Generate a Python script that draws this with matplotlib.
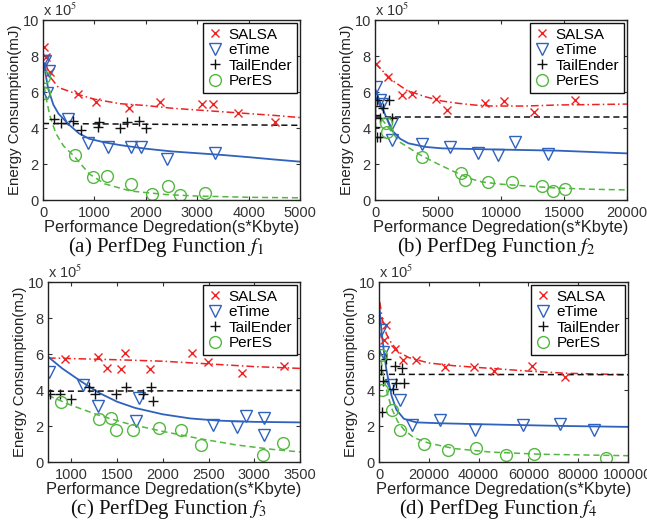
import matplotlib
matplotlib.use("Agg")
import matplotlib.pyplot as plt

plt.rcParams['font.family'] = ['Liberation Sans', 'DejaVu Sans']
plt.rcParams['mathtext.fontset'] = 'stix'

# ---------------- data (values in units of 1e5 mJ) ----------------
# (a) f1
a_salsa_x = [13, 65, 130, 682, 1040, 1676, 2275, 3097, 3311, 3785, 4513]
a_salsa_y = [8.52, 7.96, 7.1, 5.87, 5.46, 5.09, 5.43, 5.33, 5.31, 4.81, 4.33]
a_etime_x = [0, 30, 120, 80, 487, 877, 1266, 1720, 1915, 2403, 3344]
a_etime_y = [7.75, 7.7, 7.15, 5.95, 4.48, 3.19, 2.96, 2.96, 2.96, 2.3, 2.63]
a_tail_x = [208, 359, 585, 748, 1091, 1072, 1495, 1625, 1871, 2002]
a_tail_y = [4.5, 4.26, 4.39, 3.89, 4.35, 4.04, 4.02, 4.35, 4.39, 3.98]
a_peres_x = [13, 13, 617, 974, 1247, 1708, 2130, 2435, 2675, 3149]
a_peres_y = [6.85, 5.93, 2.5, 1.26, 1.35, 0.87, 0.33, 0.78, 0.28, 0.37]
a_salsa_fit_x = [50, 150, 300, 700, 1000, 1500, 2000, 2500, 3000, 3500, 4000, 4500, 5000]
a_salsa_fit_y = [7.6, 6.8, 6.25, 5.85, 5.6, 5.35, 5.25, 5.1, 5.0, 4.9, 4.8, 4.7, 4.58]
a_etime_fit_x = [20, 50, 100, 200, 300, 500, 700, 900, 1200, 1500, 2000, 2500, 3000, 3500, 4000, 4500, 5000]
a_etime_fit_y = [7.6, 7.0, 6.2, 5.3, 4.8, 4.2, 3.7, 3.4, 3.2, 3.05, 2.85, 2.7, 2.6, 2.5, 2.38, 2.25, 2.13]
a_tail_fit_x = [0, 5000]
a_tail_fit_y = [4.25, 4.15]
a_peres_fit_x = [0, 50, 130, 250, 400, 600, 900, 1200, 1700, 2400, 3000, 4000, 5000]
a_peres_fit_y = [6.85, 5.8, 4.72, 3.7, 3.0, 2.45, 1.45, 0.9, 0.5, 0.3, 0.22, 0.15, 0.12]

# (b) f2
b_salsa_x = [80, 1060, 2170, 2960, 4850, 5700, 8740, 10200, 12580, 15890]
b_salsa_y = [7.54, 6.81, 5.83, 5.89, 5.61, 5.0, 5.37, 5.52, 4.91, 5.56]
b_etime_x = [80, 400, 530, 1320, 1320, 3710, 5960, 8210, 9750, 11130, 13720]
b_etime_y = [6.26, 5.56, 5.33, 4.26, 3.33, 3.11, 2.93, 2.59, 2.5, 3.24, 2.56]
b_tail_x = [130, 0, 660, 1110, 0, 400, 1320, 0, 130, 400]
b_tail_y = [5.56, 5.2, 5.09, 5.56, 4.72, 4.54, 4.54, 4.07, 3.52, 3.52]
b_peres_x = [870, 930, 3710, 6830, 7150, 8950, 10860, 13250, 14120, 15100]
b_peres_y = [4.3, 3.8, 2.41, 1.52, 1.11, 0.98, 1.02, 0.78, 0.5, 0.63]
b_salsa_fit_x = [0, 1320, 2500, 3970, 5300, 6620, 8000, 9270, 11920, 14570, 17000, 20000]
b_salsa_fit_y = [7.6, 6.67, 6.1, 5.74, 5.5, 5.37, 5.27, 5.22, 5.22, 5.28, 5.3, 5.33]
b_etime_fit_x = [0, 530, 1320, 2000, 2650, 4000, 5300, 9270, 14570, 20000]
b_etime_fit_y = [6.2, 5.19, 3.89, 3.4, 3.15, 2.95, 2.87, 2.81, 2.74, 2.59]
b_tail_fit_x = [0, 20000]
b_tail_fit_y = [4.59, 4.59]
b_peres_fit_x = [500, 700, 1200, 2000, 3600, 5000, 6200, 7500, 8500, 10000, 12000, 14000, 17000, 20000]
b_peres_fit_y = [4.5, 4.35, 3.9, 3.2, 2.5, 2.0, 1.6, 1.2, 1.0, 0.88, 0.78, 0.68, 0.6, 0.56]

# (c) f3
c_salsa_x = [927, 1292, 1390, 1547, 1584, 1858, 2321, 2496, 2861, 3328]
c_salsa_y = [5.74, 5.83, 5.22, 5.19, 6.07, 5.19, 6.06, 5.56, 4.94, 5.33]
c_etime_x = [755, 1128, 1292, 1741, 1712, 2551, 2814, 2909, 3109, 3109]
c_etime_y = [5.0, 4.26, 3.11, 3.56, 2.26, 2.07, 1.94, 2.54, 2.44, 1.52]
c_tail_x = [770, 872, 1000, 1193, 1255, 1493, 1595, 1784, 1876, 1894]
c_tail_y = [3.79, 3.79, 3.52, 4.17, 3.79, 3.79, 4.17, 3.79, 4.17, 3.39]
c_peres_x = [890, 1303, 1438, 1493, 1675, 1956, 2204, 2423, 3098, 3318]
c_peres_y = [3.33, 2.37, 2.44, 1.8, 1.76, 1.91, 1.76, 0.93, 0.41, 1.07]
c_salsa_fit_x = [745, 1500, 2000, 2500, 3000, 3500]
c_salsa_fit_y = [5.78, 5.68, 5.6, 5.45, 5.3, 5.2]
c_etime_fit_x = [745, 900, 1100, 1300, 1500, 1700, 2000, 2300, 2600, 3000, 3500]
c_etime_fit_y = [5.85, 5.2, 4.5, 3.85, 3.35, 3.0, 2.65, 2.42, 2.3, 2.23, 2.2]
c_tail_fit_x = [745, 3500]
c_tail_fit_y = [3.93, 3.98]
c_peres_fit_x = [745, 1000, 1300, 1600, 2000, 2400, 2800, 3200, 3500]
c_peres_fit_y = [3.7, 3.15, 2.6, 2.15, 1.7, 1.3, 0.95, 0.7, 0.56]

# (d) f4
d_salsa_x = [2970, 2010, 6590, 9640, 15020, 26380, 38020, 46180, 61450, 74830]
d_salsa_y = [7.59, 6.76, 6.3, 5.65, 5.65, 5.28, 5.28, 5.06, 5.31, 4.72]
d_etime_x = [940, 1610, 4690, 8300, 13250, 24360, 38690, 57830, 72560, 86210]
d_etime_y = [7.31, 6.11, 4.26, 3.43, 2.04, 2.31, 1.76, 2.04, 2.13, 1.76]
d_tail_x = [950, 3000, 6300, 9400, 1600, 5600, 7000, 9900, 1200]
d_tail_y = [5.1, 5.7, 5.35, 5.2, 4.5, 4.05, 4.4, 4.4, 2.8]
d_peres_x = [940, 1340, 5350, 8300, 18070, 27710, 39090, 51140, 62250, 91300]
d_peres_y = [5.93, 3.98, 2.87, 1.76, 1.02, 0.65, 0.78, 0.41, 0.43, 0.24]
d_salsa_fit_x = [300, 1500, 3000, 5000, 8000, 12000, 20000, 30000, 45000, 60000, 75000, 100000]
d_salsa_fit_y = [8.9, 7.8, 7.1, 6.6, 6.1, 5.8, 5.5, 5.35, 5.2, 5.05, 4.93, 4.85]
d_etime_fit_x = [300, 1000, 2000, 3000, 5000, 7000, 10000, 15000, 25000, 50000, 75000, 100000]
d_etime_fit_y = [8.4, 7.3, 6.1, 5.1, 3.7, 2.9, 2.4, 2.2, 2.15, 2.07, 2.0, 1.95]
d_tail_fit_x = [0, 100000]
d_tail_fit_y = [4.87, 4.85]
d_peres_fit_x = [300, 1500, 3000, 5000, 7500, 10000, 14000, 20000, 30000, 45000, 65000, 100000]
d_peres_fit_y = [6.2, 5.0, 4.0, 3.0, 2.25, 1.8, 1.35, 1.05, 0.75, 0.55, 0.43, 0.35]

series_names = ['SALSA', 'eTime', 'TailEnder', 'PerES']
captions = ['(a) PerfDeg Function $f_1$', '(b) PerfDeg Function $f_2$',
            '(c) PerfDeg Function $f_3$', '(d) PerfDeg Function $f_4$']
xlims = [(0, 5000), (0, 20000), (745, 3500), (0, 100000)]
xticks = [[0, 1000, 2000, 3000, 4000, 5000],
          [0, 5000, 10000, 15000, 20000],
          [1000, 1500, 2000, 2500, 3000, 3500],
          [0, 20000, 40000, 60000, 80000, 100000]]
yticks = [0, 2, 4, 6, 8, 10]

panels = [
    (a_salsa_x, a_salsa_y, a_etime_x, a_etime_y, a_tail_x, a_tail_y, a_peres_x, a_peres_y,
     a_salsa_fit_x, a_salsa_fit_y, a_etime_fit_x, a_etime_fit_y, a_tail_fit_x, a_tail_fit_y,
     a_peres_fit_x, a_peres_fit_y),
    (b_salsa_x, b_salsa_y, b_etime_x, b_etime_y, b_tail_x, b_tail_y, b_peres_x, b_peres_y,
     b_salsa_fit_x, b_salsa_fit_y, b_etime_fit_x, b_etime_fit_y, b_tail_fit_x, b_tail_fit_y,
     b_peres_fit_x, b_peres_fit_y),
    (c_salsa_x, c_salsa_y, c_etime_x, c_etime_y, c_tail_x, c_tail_y, c_peres_x, c_peres_y,
     c_salsa_fit_x, c_salsa_fit_y, c_etime_fit_x, c_etime_fit_y, c_tail_fit_x, c_tail_fit_y,
     c_peres_fit_x, c_peres_fit_y),
    (d_salsa_x, d_salsa_y, d_etime_x, d_etime_y, d_tail_x, d_tail_y, d_peres_x, d_peres_y,
     d_salsa_fit_x, d_salsa_fit_y, d_etime_fit_x, d_etime_fit_y, d_tail_fit_x, d_tail_fit_y,
     d_peres_fit_x, d_peres_fit_y),
]

RED = '#ee2222'
BLUE = '#2f62bd'
BLACK = '#111111'
GREEN = '#52b83f'

W, H = 647, 524
fig = plt.figure(figsize=(W / 100, H / 100), dpi=100)

# axes boxes in pixels: left, right, top, bottom
boxes = [(43, 300, 20, 200), (375, 627, 20, 200), (48, 300, 282, 462), (379, 628, 282, 462)]

for i, (box, data) in enumerate(zip(boxes, panels)):
    l, r, t, b = box
    ax = fig.add_axes([l / W, 1 - b / H, (r - l) / W, (b - t) / H])
    (sx, sy, ex, ey, tx, ty, px, py, sfx, sfy, efx, efy, tfx, tfy, pfx, pfy) = data
    # fits
    ax.plot(sfx, sfy, color=RED, ls=(0, (5, 2, 1, 2)), lw=1.1)
    ax.plot(efx, efy, color=BLUE, ls='-', lw=1.3)
    ax.plot(tfx, tfy, color=BLACK, ls=(0, (4, 2.5)), lw=1.1)
    ax.plot(pfx, pfy, color=GREEN, ls=(0, (4, 2.5)), lw=1.1)
    # markers
    ax.plot(sx, sy, ls='none', marker='x', ms=5.5, mew=1.0, color=RED, label=series_names[0])
    ax.plot(ex, ey, ls='none', marker='v', ms=9, mew=1.0, mfc='none', mec=BLUE, label=series_names[1])
    ax.plot(tx, ty, ls='none', marker='+', ms=7.5, mew=1.0, color=BLACK, label=series_names[2])
    ax.plot(px, py, ls='none', marker='o', ms=8.5, mew=1.0, mfc='none', mec=GREEN, label=series_names[3])

    ax.set_xlim(*xlims[i])
    ax.set_ylim(0, 10)
    ax.set_xticks(xticks[i])
    ax.set_xticklabels([str(v) for v in xticks[i]])
    ax.set_yticks(yticks)
    ax.set_yticklabels([str(v) for v in yticks])
    ax.tick_params(direction='in', top=True, right=True, labelsize=10.5, length=3,
                   colors='#333333')
    ax.tick_params(axis='x', pad=4)
    ax.tick_params(axis='y', pad=3)
    for sp in ax.spines.values():
        sp.set_linewidth(1.0)
        sp.set_color('#222222')
    ax.text(0.0, 1.005, r'x 10$^5$', transform=ax.transAxes, fontsize=10.5,
            ha='left', va='bottom', color='#333333')
    ax.set_xlabel('Performance Degredation(s*Kbyte)', fontsize=11.8, labelpad=0, color='#222222')
    ax.set_ylabel('Energy Consumption(mJ)', fontsize=10.8, labelpad=0, color='#222222')
    leg = ax.legend(loc='upper right', fontsize=11, frameon=True, fancybox=False,
                    borderaxespad=0.2, handlelength=1.0, handletextpad=0.4,
                    labelspacing=0.1, borderpad=0.3)
    leg.get_frame().set_edgecolor('#111111')
    leg.get_frame().set_linewidth(1.0)
    leg.get_frame().set_alpha(1)
    cx = (l + r) / 2 / W
    cy = 1 - (b + 47) / H
    fig.text(cx - 0.008, cy, captions[i], family='Liberation Serif', fontsize=15,
             ha='center', va='center', color='#111111')

fig.savefig('out.png', dpi=100)
